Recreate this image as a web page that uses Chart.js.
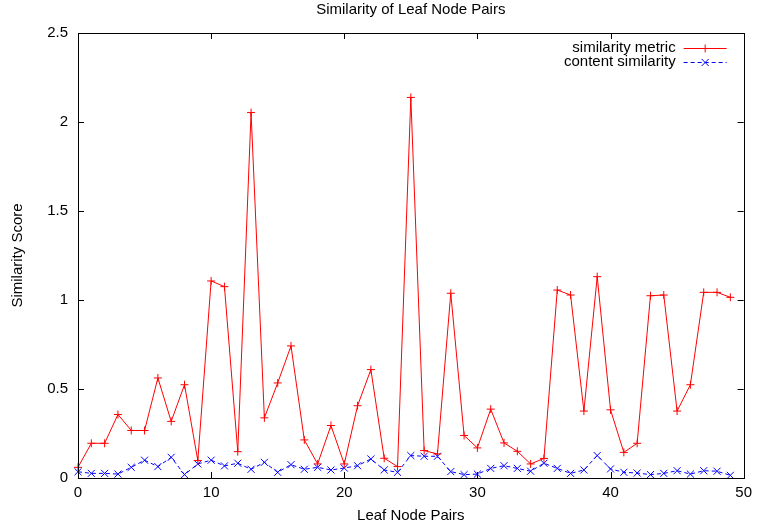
<!DOCTYPE html>
<html>
<head>
<meta charset="utf-8">
<title>Similarity of Leaf Node Pairs</title>
<script src="https://cdn.jsdelivr.net/npm/chart.js@4/dist/chart.umd.min.js"></script>
<style>
    body { margin: 0; background: #fff; }
    #wrap { width: 758px; height: 529px; }
</style>
</head>
<body>
<div id="wrap"><canvas id="simChart" width="758" height="529"></canvas></div>
<script>
// Leaf node pair index (x axis)
const pairIndex = Array.from({ length: 50 }, (_, i) => i);

// Values
const similarityMetric = [
    0.06, 0.195, 0.195, 0.357, 0.267, 0.267, 0.562, 0.318, 0.524, 0.098,
    1.107, 1.075, 0.148, 2.053, 0.338, 0.534, 0.742, 0.214, 0.079, 0.295,
    0.079, 0.406, 0.609, 0.111, 0.064, 2.138, 0.154, 0.135, 1.038, 0.239,
    0.169, 0.387, 0.197, 0.15, 0.079, 0.11, 1.056, 1.028, 0.376, 1.131,
    0.383, 0.144, 0.195, 1.024, 1.028, 0.376, 0.524, 1.043, 1.043, 1.015
];
const contentSimilarity = [
    0.035, 0.026, 0.026, 0.022, 0.06, 0.10, 0.064, 0.116, 0.019, 0.079,
    0.10, 0.068, 0.083, 0.049, 0.088, 0.032, 0.075, 0.049, 0.06, 0.045,
    0.056, 0.069, 0.107, 0.045, 0.032, 0.126, 0.122, 0.122, 0.036, 0.019,
    0.022, 0.054, 0.069, 0.054, 0.038, 0.083, 0.054, 0.026, 0.045, 0.126,
    0.051, 0.032, 0.028, 0.019, 0.026, 0.041, 0.022, 0.041, 0.038, 0.015
];

const seriesLabels = ['similarity metric', 'content similarity'];
const FONT = '"Liberation Sans", Arial, Helvetica, sans-serif';
const FS = 15;

// gnuplot style frame: box + inward ticks on all four sides
const framePlugin = {
    id: 'frame',
    afterDatasetsDraw(chart) {
        const { ctx, chartArea: a, scales } = chart;
        const t = 6;
        ctx.save();
        ctx.strokeStyle = '#000';
        ctx.lineWidth = 1;
        ctx.beginPath();
        scales.x.ticks.forEach(tk => {
            const px = Math.round(scales.x.getPixelForValue(tk.value)) + 0.5;
            ctx.moveTo(px, a.bottom); ctx.lineTo(px, a.bottom - t);
            ctx.moveTo(px, a.top); ctx.lineTo(px, a.top + t);
        });
        scales.y.ticks.forEach(tk => {
            const py = Math.round(scales.y.getPixelForValue(tk.value)) + 0.5;
            ctx.moveTo(a.left, py); ctx.lineTo(a.left + t, py);
            ctx.moveTo(a.right, py); ctx.lineTo(a.right - t, py);
        });
        ctx.stroke();
        ctx.strokeRect(Math.round(a.left) + 0.5, Math.round(a.top) + 0.5,
            Math.round(a.right - a.left), Math.round(a.bottom - a.top));
        ctx.restore();
    }
};

// legend in the gnuplot layout: text right aligned, sample to the right
const keyPlugin = {
    id: 'gnuKey',
    afterDraw(chart) {
        const { ctx, chartArea: a } = chart;
        const textRight = a.right - 68;
        const x0 = a.right - 60, x1 = a.right - 17;
        ctx.save();
        ctx.font = FS + 'px ' + FONT;
        ctx.textAlign = 'right';
        ctx.textBaseline = 'middle';
        chart.data.datasets.forEach((ds, i) => {
            const y = a.top + 15 + i * 14;
            ctx.fillStyle = '#000';
            ctx.fillText(ds.label, textRight, y);
            ctx.strokeStyle = ds.borderColor;
            ctx.lineWidth = 1;
            ctx.setLineDash(ds.borderDash || []);
            ctx.beginPath();
            ctx.moveTo(x0, y + 0.5); ctx.lineTo(x1, y + 0.5);
            ctx.stroke();
            ctx.setLineDash([]);
            Chart.helpers.drawPoint(ctx, {
                pointStyle: ds.pointStyle, radius: ds.pointRadius, borderWidth: 1
            }, (x0 + x1) / 2, y + 0.5);
        });
        ctx.restore();
    }
};

const ctx = document.getElementById('simChart').getContext('2d');
new Chart(ctx, {
    type: 'line',
    data: {
        datasets: [
            {
                label: seriesLabels[0],
                data: pairIndex.map((x, i) => ({ x, y: similarityMetric[i] })),
                borderColor: '#ff0000',
                backgroundColor: '#ff0000',
                borderWidth: 1,
                pointStyle: 'cross',
                pointRadius: 4,
                pointBorderWidth: 1,
                pointBorderColor: '#ff0000',
                tension: 0,
                fill: false,
                clip: false
            },
            {
                label: seriesLabels[1],
                data: pairIndex.map((x, i) => ({ x, y: contentSimilarity[i] })),
                borderColor: '#0000ff',
                backgroundColor: '#0000ff',
                borderWidth: 1,
                borderDash: [4, 3],
                pointStyle: 'crossRot',
                pointRadius: 5,
                pointBorderWidth: 1,
                pointBorderColor: '#0000ff',
                tension: 0,
                fill: false,
                clip: false
            }
        ]
    },
    options: {
        responsive: false,
        animation: false,
        devicePixelRatio: 1,
        layout: { padding: { left: 0, right: 13, top: 0, bottom: 0 } },
        font: { family: FONT, size: FS },
        color: '#000',
        plugins: {
            legend: { display: false },
            tooltip: { enabled: false },
            title: {
                display: true,
                text: 'Similarity of Leaf Node Pairs',
                fullSize: false,
                color: '#000',
                font: { family: FONT, size: FS, weight: 'normal' },
                padding: { top: 1, bottom: 14 }
            }
        },
        scales: {
            x: {
                type: 'linear',
                min: 0,
                max: 50,
                afterFit: s => { s.height = 51; },
                grid: { display: false, drawTicks: false, tickLength: 0 },
                border: { display: false },
                ticks: {
                    stepSize: 10,
                    color: '#000',
                    padding: 6,
                    maxRotation: 0,
                    font: { family: FONT, size: FS }
                },
                title: {
                    display: true,
                    text: 'Leaf Node Pairs',
                    color: '#000',
                    font: { family: FONT, size: FS },
                    padding: { top: 0, bottom: 4 }
                }
            },
            y: {
                min: 0,
                max: 2.5,
                afterFit: s => { s.width = 78; },
                grid: { display: false, drawTicks: false, tickLength: 0 },
                border: { display: false },
                ticks: {
                    stepSize: 0.5,
                    color: '#000',
                    padding: 10,
                    font: { family: FONT, size: FS },
                    callback: v => String(Math.round(v * 10) / 10)
                },
                title: {
                    display: true,
                    text: 'Similarity Score',
                    color: '#000',
                    font: { family: FONT, size: FS },
                    padding: { top: 9, bottom: 0 }
                }
            }
        }
    },
    plugins: [framePlugin, keyPlugin]
});
</script>
</body>
</html>
